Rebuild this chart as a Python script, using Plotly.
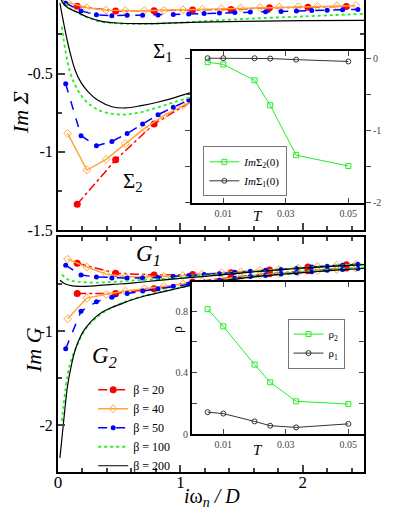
import plotly.graph_objects as go

# --- data ---------------------------------------------------------------
# Im Sigma_1 (upper curves, top panel)
s1_b20_x = [0.157, 0.471, 0.785, 1.100, 1.414, 1.728, 2.042, 2.356]
s1_b20_y = [-0.070, -0.100, -0.098, -0.094, -0.090, -0.080, -0.076, -0.071]
s1_b40_x = [0.0785, 0.236, 0.393, 0.550, 0.707, 0.864, 1.021, 1.178, 1.335, 1.492,
            1.649, 1.806, 1.963, 2.120, 2.277, 2.434]
s1_b40_y = [-0.045, -0.080, -0.095, -0.098, -0.098, -0.096, -0.093, -0.090, -0.086, -0.082,
            -0.078, -0.075, -0.072, -0.070, -0.068, -0.066]
s1_b50_x = [0.0628, 0.188, 0.314, 0.440, 0.565, 0.691, 0.817, 0.942, 1.068, 1.194,
            1.319, 1.445, 1.571, 1.696, 1.822, 1.948, 2.073, 2.199, 2.325, 2.450]
s1_b50_y = [-0.050, -0.100, -0.125, -0.130, -0.128, -0.127, -0.126, -0.123, -0.120, -0.117,
            -0.113, -0.110, -0.107, -0.105, -0.103, -0.100, -0.097, -0.095, -0.093, -0.090]
s1_b100_x = [0.0314, 0.094, 0.157, 0.25, 0.35, 0.5, 0.7, 0.9, 1.1, 1.3, 1.6, 2.0, 2.5]
s1_b100_y = [-0.020, -0.080, -0.110, -0.145, -0.168, -0.180, -0.182, -0.178, -0.170,
             -0.160, -0.148, -0.135, -0.118]
s1_b200_x = [0.0157, 0.04, 0.08, 0.155, 0.24, 0.34, 0.48, 0.67, 0.89, 1.16, 1.5, 2.0, 2.5]
s1_b200_y = [-0.010, -0.050, -0.080, -0.107, -0.139, -0.163, -0.177, -0.181, -0.178,
             -0.172, -0.166, -0.162, -0.160]

# Im Sigma_2 (lower curves, top panel)
s2_b20_x = [0.157, 0.471, 0.785, 1.100, 1.414, 1.728, 2.042, 2.356]
s2_b20_y = [-1.335, -1.051, -0.822, -0.673, -0.560, -0.480, -0.430, -0.390]
s2_b40_x = [0.0785, 0.236, 0.393, 0.550, 0.707, 0.864, 1.021, 1.178, 1.335]
s2_b40_y = [-0.883, -1.117, -1.049, -0.947, -0.851, -0.769, -0.705, -0.650, -0.600]
s2_b50_x = [0.0628, 0.188, 0.314, 0.440, 0.565, 0.691, 0.817, 0.942, 1.068, 1.194]
s2_b50_y = [-0.566, -0.897, -0.962, -0.934, -0.883, -0.822, -0.763, -0.716, -0.669, -0.630]
s2_b100_x = [0.0314, 0.094, 0.157, 0.22, 0.28, 0.35, 0.45, 0.55, 0.65, 0.77, 0.9, 1.04,
             1.2, 1.5, 2.0, 2.5]
s2_b100_y = [-0.200, -0.480, -0.600, -0.670, -0.710, -0.740, -0.758, -0.762, -0.752,
             -0.727, -0.695, -0.662, -0.630, -0.570, -0.490, -0.420]
s2_b200_x = [0.0157, 0.047, 0.0785, 0.11, 0.141, 0.19, 0.25, 0.33, 0.44, 0.55, 0.68, 0.82,
             0.96, 1.09, 1.3, 1.6, 2.0, 2.5]
s2_b200_y = [-0.050, -0.180, -0.300, -0.400, -0.480, -0.560, -0.620, -0.673, -0.712,
             -0.720, -0.705, -0.682, -0.652, -0.620, -0.580, -0.530, -0.470, -0.400]

# Im G_1 (upper group, bottom panel)
g1_b20_y = [-0.280, -0.385, -0.405, -0.400, -0.380, -0.350, -0.320, -0.295]
g1_b40_y = [-0.235, -0.320, -0.395, -0.420, -0.425, -0.420, -0.410, -0.395, -0.380, -0.370,
            -0.355, -0.345, -0.330, -0.315, -0.300, -0.290]
g1_b50_y = [-0.300, -0.405, -0.425, -0.435, -0.437, -0.435, -0.430, -0.420, -0.410, -0.400,
            -0.390, -0.375, -0.365, -0.355, -0.345, -0.335, -0.320, -0.310, -0.300, -0.290]
g1_b100_x = [0.0314, 0.094, 0.157, 0.25, 0.35, 0.45, 0.55, 0.65, 0.8, 0.95, 1.1, 1.3, 1.5,
             1.7, 1.9, 2.1, 2.3, 2.5]
g1_b100_y = [-0.400, -0.460, -0.475, -0.484, -0.484, -0.478, -0.470, -0.460, -0.450,
             -0.435, -0.420, -0.400, -0.380, -0.360, -0.340, -0.320, -0.305, -0.290]
g1_b200_x = [0.0157, 0.06, 0.12, 0.2, 0.3, 0.45, 0.6, 0.8, 1.0, 1.2, 1.4, 1.6, 1.8, 2.0,
             2.2, 2.5]
g1_b200_y = [-0.460, -0.500, -0.520, -0.525, -0.520, -0.505, -0.490, -0.465, -0.440,
             -0.420, -0.395, -0.370, -0.350, -0.330, -0.315, -0.295]

# Im G_2 (lower group, bottom panel)
g2_b20_y = [-0.600, -0.600, -0.550, -0.480, -0.430, -0.390, -0.360, -0.330]
g2_b40_y = [-0.870, -0.650, -0.610, -0.575, -0.550, -0.525, -0.500, -0.470, -0.445, -0.425,
            -0.405, -0.390, -0.375, -0.360, -0.345, -0.330]
g2_b50_y = [-1.190, -0.790, -0.690, -0.640, -0.600, -0.575, -0.550, -0.525, -0.500, -0.480,
            -0.460, -0.440, -0.420, -0.410, -0.395, -0.380, -0.370, -0.355, -0.345, -0.335]
g2_b100_x = [0.0314, 0.094, 0.157, 0.23, 0.34, 0.48, 0.6, 0.75, 0.9, 1.05, 1.2, 1.4, 1.7,
             2.0, 2.3, 2.5]
g2_b100_y = [-1.960, -1.370, -1.150, -0.970, -0.830, -0.725, -0.665, -0.610, -0.565,
             -0.525, -0.490, -0.450, -0.405, -0.370, -0.340, -0.325]
g2_b200_x = [0.0157, 0.047, 0.0785, 0.11, 0.141, 0.173, 0.204, 0.236, 0.30, 0.36, 0.42,
             0.50, 0.60, 0.70, 0.80, 0.90, 1.0, 1.1, 1.3, 1.5, 1.7, 1.9, 2.1, 2.3, 2.5]
g2_b200_y = [-2.350, -1.950, -1.580, -1.360, -1.200, -1.090, -1.010, -0.950, -0.860,
             -0.800, -0.760, -0.720, -0.670, -0.630, -0.600, -0.570, -0.540, -0.510,
             -0.470, -0.440, -0.410, -0.390, -0.370, -0.350, -0.335]

# insets: quantities vs temperature
temps = [0.005, 0.01, 0.02, 0.025, 0.0333, 0.05]
im_sigma2_0 = [-0.055, -0.086, -0.305, -0.650, -1.340, -1.490]
im_sigma1_0 = [0.0, 0.0, 0.0, -0.005, -0.020, -0.045]
rho2 = [0.813, 0.701, 0.452, 0.337, 0.213, 0.195]
rho1 = [0.142, 0.133, 0.082, 0.054, 0.043, 0.066]

beta_labels = ["β = 20", "β = 40", "β = 50", "β = 100", "β = 200"]

FONT = "Liberation Serif, Times New Roman, Times, serif"
RED, ORANGE, BLUE, GREEN, BLACK = "#ff0000", "#ffa53c", "#0000ff", "#22ee22", "#000000"

styles = [
    dict(line=dict(color=RED, dash="dashdot", width=1.5),
         marker=dict(symbol="circle", size=7, color=RED)),
    dict(line=dict(color=ORANGE, width=1.5),
         marker=dict(symbol="diamond-open", size=6, color=ORANGE)),
    dict(line=dict(color=BLUE, dash="dash", width=1.5),
         marker=dict(symbol="circle", size=5, color=BLUE)),
    dict(line=dict(color=GREEN, dash="dot", width=1.8), marker=dict(size=3, color=GREEN)),
    dict(line=dict(color=BLACK, width=1.2), marker=dict(size=3, color=BLACK)),
]

fig = go.Figure()

sigma = [
    (s1_b20_x, s1_b20_y, s2_b20_x, s2_b20_y),
    (s1_b40_x, s1_b40_y, s2_b40_x, s2_b40_y),
    (s1_b50_x, s1_b50_y, s2_b50_x, s2_b50_y),
    (s1_b100_x, s1_b100_y, s2_b100_x, s2_b100_y),
    (s1_b200_x, s1_b200_y, s2_b200_x, s2_b200_y),
]
green_f = [
    (s1_b20_x, g1_b20_y, s1_b20_x, g2_b20_y),
    (s1_b40_x, g1_b40_y, s1_b40_x, g2_b40_y),
    (s1_b50_x, g1_b50_y, s1_b50_x, g2_b50_y),
    (g1_b100_x, g1_b100_y, g2_b100_x, g2_b100_y),
    (g1_b200_x, g1_b200_y, g2_b200_x, g2_b200_y),
]

for i, label in enumerate(beta_labels):
    st = styles[i]
    mode = "lines+markers" if i < 3 else "lines"
    shape = "linear" if i < 3 else "spline"
    for xs, ys in [(sigma[i][0], sigma[i][1]), (sigma[i][2], sigma[i][3])]:
        fig.add_trace(go.Scatter(x=xs, y=ys, mode=mode, line=st["line"], line_shape=shape,
                                 marker=st["marker"], xaxis="x", yaxis="y", showlegend=False))
    for j, (xs, ys) in enumerate([(green_f[i][0], green_f[i][1]),
                                  (green_f[i][2], green_f[i][3])]):
        fig.add_trace(go.Scatter(x=xs, y=ys, mode=mode, line=st["line"], line_shape=shape,
                                 marker=st["marker"], xaxis="x2", yaxis="y2",
                                 name=label, showlegend=(j == 0), legend="legend"))

# inset 1
fig.add_trace(go.Scatter(x=temps, y=im_sigma2_0, mode="lines+markers", xaxis="x3", yaxis="y3",
                         name="<i>Im</i>Σ<sub>2</sub>(0)", legend="legend2",
                         line=dict(color=GREEN, width=1),
                         marker=dict(symbol="square-open", size=5, color=GREEN)))
fig.add_trace(go.Scatter(x=temps, y=im_sigma1_0, mode="lines+markers", xaxis="x3", yaxis="y3",
                         name="<i>Im</i>Σ<sub>1</sub>(0)", legend="legend2",
                         line=dict(color="#333333", width=1),
                         marker=dict(symbol="circle-open", size=5, color="#333333")))
# inset 2
fig.add_trace(go.Scatter(x=temps, y=rho2, mode="lines+markers", xaxis="x4", yaxis="y4",
                         name="ρ<sub>2</sub>", legend="legend3",
                         line=dict(color=GREEN, width=1),
                         marker=dict(symbol="square-open", size=5, color=GREEN)))
fig.add_trace(go.Scatter(x=temps, y=rho1, mode="lines+markers", xaxis="x4", yaxis="y4",
                         name="ρ<sub>1</sub>", legend="legend3",
                         line=dict(color="#333333", width=1),
                         marker=dict(symbol="circle-open", size=5, color="#333333")))

main_x = dict(range=[0, 2.5], tickmode="array", tickvals=[0, 1, 2], ticktext=["0", "1", "2"],
              ticks="inside", ticklen=7, tickwidth=1.5, ticklabelstandoff=-6,
              minor=dict(dtick=0.2, tick0=0, ticklen=4, ticks="inside"),
              showline=True, linewidth=2, linecolor="black", mirror="allticks",
              showgrid=False, zeroline=False,
              tickfont=dict(family=FONT, size=17, color="black"))
main_y = dict(ticks="inside", ticklen=7, tickwidth=1.5, showline=True, linewidth=2,
              linecolor="black", mirror="allticks", showgrid=False, zeroline=False,
              tickfont=dict(family=FONT, size=16, color="black"))
inset_tick = dict(family=FONT, size=10, color="#444444")
inset_ax = dict(showline=True, linewidth=2, linecolor="black", mirror="allticks",
                showgrid=False, zeroline=False, tickfont=inset_tick, ticklen=5)

fig.update_layout(
    width=395, height=511,
    margin=dict(l=58, r=31, t=0, b=39),
    paper_bgcolor="white", plot_bgcolor="white",
    font=dict(family=FONT, color="black"),
    xaxis=dict(main_x, domain=[0, 1], anchor="y", showticklabels=False, mirror=False),
    yaxis=dict(main_y, domain=[0.5127, 1], anchor="x", range=[-1.5, -0.03],
               tickvals=[-1.5, -1, -0.5], ticktext=["-1.5", "-1", "-0.5"],
               minor=dict(dtick=0.25, tick0=0, ticklen=4, ticks="inside")),
    xaxis2=dict(main_x, domain=[0, 1], anchor="y2"),
    yaxis2=dict(main_y, domain=[0, 0.4979], anchor="x2", range=[-2.5, 0],
                tickvals=[-2, -1], ticktext=["-2", "-1"],
                minor=dict(dtick=0.5, tick0=0, ticklen=4, ticks="inside")),
    xaxis3=dict(inset_ax, domain=[0.438, 1], anchor="y3", range=[0, 0.055],
                tickvals=[0.01, 0.03, 0.05], ticktext=["0.01", "0.03", "0.05"], ticks="inside"),
    yaxis3=dict(inset_ax, domain=[0.570, 0.892], anchor="x3", range=[-2, 0.1], side="right",
                tickvals=[-2, -1, 0], ticktext=["-2", "-1", "0"], ticks="outside",
                minor=dict(dtick=0.5, tick0=0, ticklen=5, ticks="outside")),
    xaxis4=dict(inset_ax, domain=[0.438, 1], anchor="y4", range=[0, 0.055],
                tickvals=[0.01, 0.03, 0.05], ticktext=["0.01", "0.03", "0.05"], ticks="inside"),
    yaxis4=dict(inset_ax, domain=[0.0805, 0.4025], anchor="x4", range=[0, 0.99],
                tickvals=[0, 0.4, 0.8], ticktext=["0", "0.4", "0.8"], ticks="inside",
                minor=dict(dtick=0.2, tick0=0, ticklen=5, ticks="inside")),
    legend=dict(x=0.115, y=0.205, xanchor="left", yanchor="top", bgcolor="rgba(0,0,0,0)",
                font=dict(family=FONT, size=12), itemwidth=30, tracegroupgap=0),
    legend2=dict(x=0.475, y=0.69, xanchor="left", yanchor="top", bgcolor="white",
                 bordercolor="#777777", borderwidth=1, font=dict(family=FONT, size=11),
                 itemwidth=30),
    legend3=dict(x=0.75, y=0.325, xanchor="left", yanchor="top", bgcolor="white",
                 bordercolor="#777777", borderwidth=1, font=dict(family=FONT, size=11),
                 itemwidth=30),
)

def note(text, x, y, size, angle=0):
    fig.add_annotation(text=text, x=x, y=y, xref="paper", yref="paper", showarrow=False,
                       xanchor="center", yanchor="middle", textangle=angle,
                       font=dict(family=FONT, size=size, color="black"))

# positions are given in pixels of the 395x511 page, converted to paper units
def px(xp, yp):
    return (xp - 58) / 306, (472 - yp) / 472

note("<i>Im Σ</i>", *px(20, 113), 22, -90)
note("<i>Im G</i>", *px(33, 350), 22, -90)
note("<i>i</i>ω<sub><i>n</i></sub><i> / D</i>", *px(212, 497), 20)
note("Σ<sub>1</sub>", *px(163, 52), 21)
note("Σ<sub>2</sub>", *px(133, 182), 21)
note("<i>G<sub>1</sub></i>", *px(148, 255), 23)
note("<i>G<sub>2</sub></i>", *px(104, 357), 23)
note("<i>T</i>", *px(258, 216), 15)
note("<i>T</i>", *px(258, 450), 15)
note("ρ", *px(177, 330), 14, -90)

# the page is photographed from its top-left corner, so drop the default body margin
fig.write_html("out.html", config={"displayModeBar": False},
               post_script="document.body.style.margin='0';")
